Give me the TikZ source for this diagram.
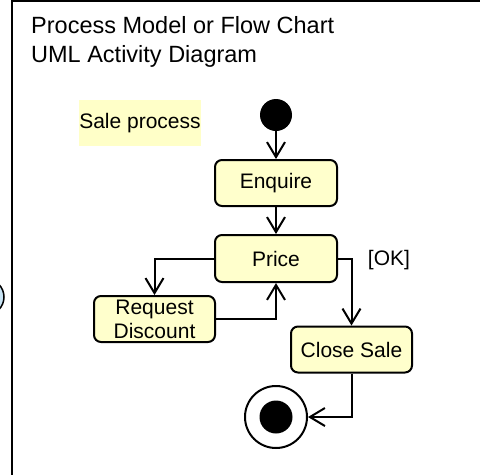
\documentclass[tikz,border=0pt]{standalone}
\usepackage{fontspec}
\setmainfont{Liberation Sans}
\usetikzlibrary{arrows.meta}
\definecolor{actfill}{RGB}{255,255,204}
\definecolor{notefill}{RGB}{255,255,200}
\definecolor{lifeblue}{RGB}{200,228,245}
\tikzset{
  activity/.style={draw=black, line width=2pt, rounded corners=7pt, fill=actfill,
    minimum width=122pt, minimum height=46pt, inner sep=0pt, align=center,
    font=\fontsize{21pt}{24pt}\selectfont},
  flow/.style={draw=black, line width=2pt, -{Straight Barb[length=15pt,width=18pt,line width=2pt]}},
  heading/.style={anchor=base west, inner sep=0pt, font=\fontsize{23.5pt}{29pt}\selectfont},
}
\begin{document}
\begin{tikzpicture}[x=1pt,y=-1pt]
\useasboundingbox (0,0) rectangle (480,475);
% frame lines and partly hidden element at the left
\draw[fill=lifeblue, line width=1.5pt] (-14,297) circle (18);
\draw[line width=2.5pt] (12,0) -- (12,475);
\draw[line width=1.5pt] (12,0.75) -- (480,0.75);
% headings
\node[heading] (title1) at (31,33) {Process Model or Flow Chart};
\node[heading] (title2) at (31,62) {UML Activity Diagram};
% note
\node[fill=notefill, inner sep=0pt, minimum width=122pt, minimum height=46pt,
  font=\fontsize{21pt}{24pt}\selectfont] (note) at (140,123) {Sale process};
% initial and final nodes
\node[circle, fill=black, minimum size=32pt, inner sep=0pt] (start) at (276,115) {};
\node[circle, draw=black, line width=2pt, fill=white, minimum size=62pt, inner sep=0pt] (final) at (276,417) {};
\node[circle, fill=black, minimum size=33pt, inner sep=0pt] (finaldot) at (276,417) {};
% activities
\node[activity] (enquire) at (276,183) {Enquire};
\node[activity, minimum height=47pt] (price) at (276,258.5) {Price};
\node[activity, minimum width=121pt] (discount) at (154.5,319) {Request\\Discount};
\node[activity, minimum width=121pt] (close) at (351.5,349.5) {Close Sale};
% guard label
\node[inner sep=0pt, font=\fontsize{21pt}{24pt}\selectfont] (ok) at (389,260) {[OK]};
% control flows
\draw[flow] (start) -- (enquire);
\draw[flow] (enquire) -- (price);
\draw[flow] (price.west) -| (discount.north);
\draw[flow] (discount.east) -| (price.south);
\draw[flow] (price.east) -| (close.north);
\draw[flow] (close.south) |- (final.east);
\end{tikzpicture}
\end{document}
